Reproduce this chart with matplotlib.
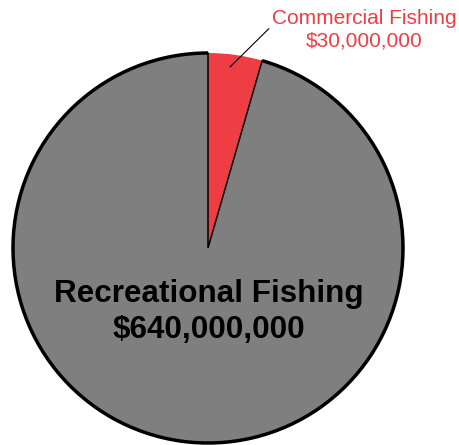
import numpy as np
import matplotlib
matplotlib.use('Agg')
import matplotlib.pyplot as plt
from matplotlib.patches import Arc

labels = ["Commercial Fishing", "Recreational Fishing"]
values = [30000000, 640000000]
colors = ["#EE3E43", "#7F7F7F"]

W, H = 460, 445
fig = plt.figure(figsize=(W / 100, H / 100), dpi=100)
ax = fig.add_axes([0, 0, 1, 1])

cx, cy, r = 208, H - 248, 195

wedges, _ = ax.pie(values, colors=colors, startangle=90, counterclock=False,
                   center=(cx, cy), radius=r)
wedges[0].set_edgecolor("none")
wedges[1].set_edgecolor("black")
wedges[1].set_linewidth(1.1)

# thicker outline on the big slice's arc
red_deg = 360 * values[0] / sum(values)
ax.add_patch(Arc((cx, cy), 2 * r, 2 * r, theta1=90, theta2=450 - red_deg,
                 color="black", lw=2.5))

ax.set_xlim(0, W)
ax.set_ylim(0, H)
ax.set_aspect("equal")
ax.axis("off")

def money(v):
    return "${:,}".format(v)

ax.text(cx + 1, H - 312, "{}\n{}".format(labels[1], money(values[1])), ha="center", va="center",
        fontsize=22.6, fontweight="bold", family="Liberation Sans", color="black", linespacing=1.3)

ax.annotate("{}\n{}".format(labels[0], money(values[0])), xy=(230, H - 67), xytext=(364, H - 30),
            ha="center", va="center", fontsize=15, family="Liberation Sans", color=colors[0],
            linespacing=1.2,
            arrowprops=dict(arrowstyle="-", color="black", lw=0.8, shrinkA=0, shrinkB=0,
                            relpos=(0.0, 0.6)))

fig.savefig("out.png", dpi=100)
